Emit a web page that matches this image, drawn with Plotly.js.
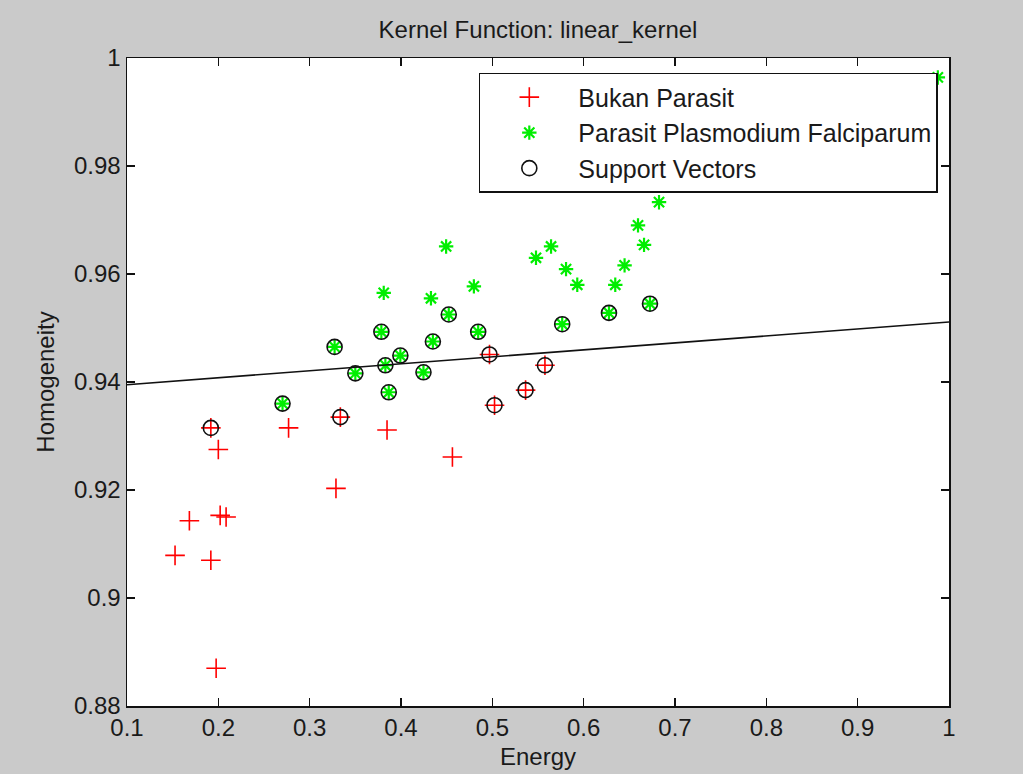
<!DOCTYPE html>
<html>
<head>
<meta charset="utf-8">
<script src="https://cdn.plot.ly/plotly-3.0.1.min.js"></script>
<style>html,body{margin:0;padding:0;background:#cacaca;}#chart{width:1023px;height:774px;}</style>
</head>
<body>
<div id="chart"></div>
<script>
// Class "Bukan Parasit" (red +)
const bukanX = [0.1918, 0.2000, 0.2769, 0.3336, 0.3847, 0.3288, 0.1683, 0.2020, 0.2085, 0.1526, 0.1918, 0.1976, 0.4563, 0.4969, 0.5024, 0.5364, 0.5576];
const bukanY = [0.9315, 0.9275, 0.9315, 0.9335, 0.9311, 0.9203, 0.9143, 0.9153, 0.9150, 0.9079, 0.9070, 0.8870, 0.9261, 0.9451, 0.9357, 0.9385, 0.9431];
// Class "Parasit Plasmodium Falciparum" (green *)
const parasitX = [0.2703, 0.3273, 0.3500, 0.3785, 0.3829, 0.3993, 0.3866, 0.4246, 0.4349, 0.4523, 0.4845, 0.5765, 0.6277, 0.6726,
                  0.3811, 0.4494, 0.4328, 0.4798, 0.5478, 0.5643, 0.5807, 0.5930, 0.6346, 0.6448, 0.6661, 0.6595, 0.6825, 0.7960, 0.9878];
const parasitY = [0.9360, 0.9465, 0.9416, 0.9493, 0.9431, 0.9449, 0.9381, 0.9418, 0.9475, 0.9525, 0.9493, 0.9507, 0.9528, 0.9545,
                  0.9565, 0.9651, 0.9555, 0.9577, 0.9630, 0.9651, 0.9609, 0.9580, 0.9580, 0.9616, 0.9654, 0.9690, 0.9733, 0.9771, 0.9964];
// Support vectors (black o)
const svX = [0.1918, 0.3336, 0.4969, 0.5024, 0.5364, 0.5576,
             0.2703, 0.3273, 0.3500, 0.3785, 0.3829, 0.3993, 0.3866, 0.4246, 0.4349, 0.4523, 0.4845, 0.5765, 0.6277, 0.6726];
const svY = [0.9315, 0.9335, 0.9451, 0.9357, 0.9385, 0.9431,
             0.9360, 0.9465, 0.9416, 0.9493, 0.9431, 0.9449, 0.9381, 0.9418, 0.9475, 0.9525, 0.9493, 0.9507, 0.9528, 0.9545];
// Separating line (linear kernel)
const boundaryX = [0.1, 1.0];
const boundaryY = [0.9395, 0.9511];

const xTicks = [0.1, 0.2, 0.3, 0.4, 0.5, 0.6, 0.7, 0.8, 0.9, 1];
const xTickText = ['0.1', '0.2', '0.3', '0.4', '0.5', '0.6', '0.7', '0.8', '0.9', '1'];
const yTicks = [0.88, 0.9, 0.92, 0.94, 0.96, 0.98, 1];
const yTickText = ['0.88', '0.9', '0.92', '0.94', '0.96', '0.98', '1'];

const FONT = 'Liberation Sans, Arial, sans-serif';
const TXT = '#1a1a1a';

const traces = [
  {
    x: bukanX, y: bukanY, type: 'scatter', mode: 'markers', name: 'Bukan Parasit',
    legendgroup: 'a',
    marker: {symbol: 'cross-thin-open', size: 14, color: '#ff0000', line: {color: '#ff0000', width: 1.6}}
  },
  {
    x: parasitX, y: parasitY, type: 'scatter', mode: 'markers', name: 'Parasit Plasmodium Falciparum',
    legendgroup: 'b',
    marker: {symbol: 'asterisk-open', size: 12, color: '#00ee00', line: {color: '#00ee00', width: 2.2}}
  },
  {
    x: boundaryX, y: boundaryY, type: 'scatter', mode: 'lines', showlegend: false,
    line: {color: '#111111', width: 1.6}, hoverinfo: 'skip'
  },
  {
    x: svX, y: svY, type: 'scatter', mode: 'markers', name: 'Support Vectors',
    legendgroup: 'c',
    marker: {symbol: 'circle-open', size: 15, color: '#111111', line: {color: '#111111', width: 1.6}}
  }
];

const layout = {
  width: 1023, height: 774,
  paper_bgcolor: '#cacaca',
  plot_bgcolor: '#ffffff',
  margin: {l: 127, r: 74, t: 58, b: 68, pad: 0},
  font: {family: FONT, size: 24, color: TXT},
  title: {text: 'Kernel Function: linear_kernel', font: {family: FONT, size: 24, color: TXT}, x: 0.5, xref: 'paper', y: 0.962, yref: 'container', yanchor: 'middle'},
  showlegend: true,
  legend: {
    x: 0.428, y: 0.977, xanchor: 'left', yanchor: 'top',
    bgcolor: '#ffffff', bordercolor: '#111111', borderwidth: 1.5,
    font: {family: FONT, size: 25, color: TXT},
    itemwidth: 88, tracegroupgap: 0, traceorder: 'grouped'
  },
  xaxis: {
    range: [0.1, 1], tickvals: xTicks, ticktext: xTickText,
    ticks: 'inside', ticklen: 8, tickwidth: 1.3, tickcolor: '#111111',
    showline: true, linecolor: '#111111', linewidth: 1.5, mirror: 'ticks',
    showgrid: false, zeroline: false,
    tickfont: {family: FONT, size: 24, color: TXT},
    title: {text: 'Energy', font: {family: FONT, size: 24, color: TXT}, standoff: 8}
  },
  yaxis: {
    range: [0.88, 1], tickvals: yTicks, ticktext: yTickText,
    ticks: 'inside', ticklen: 8, tickwidth: 1.3, tickcolor: '#111111',
    showline: true, linecolor: '#111111', linewidth: 1.5, mirror: 'ticks',
    showgrid: false, zeroline: false,
    tickfont: {family: FONT, size: 24, color: TXT},
    title: {text: 'Homogeneity', font: {family: FONT, size: 24, color: TXT}, standoff: 12}
  }
};

Plotly.newPlot('chart', traces, layout, {displayModeBar: false, staticPlot: true});
</script>
</body>
</html>
